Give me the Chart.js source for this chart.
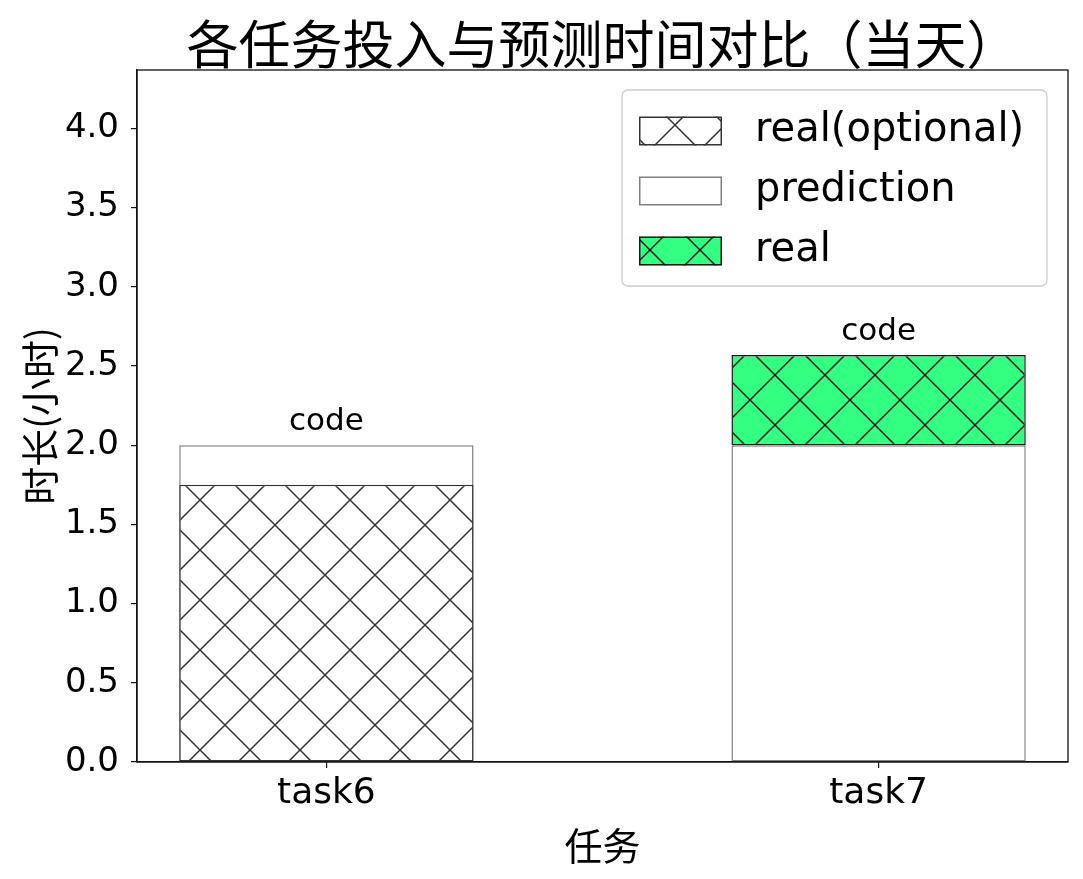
<!DOCTYPE html>
<html>
<head>
<meta charset="utf-8">
<script src="https://cdn.jsdelivr.net/npm/chart.js@4.4.0/dist/chart.umd.min.js"></script>
<style>
html,body{margin:0;padding:0;background:#ffffff;}
#wrap{width:1083px;height:879px;}
</style>
</head>
<body>
<div id="wrap"><canvas id="c" width="1083" height="879"></canvas></div>
<script>
// ---- data ----
const categories = ['task6', 'task7'];
const taskTypes = ['code', 'code'];
const prediction = [2.0, 2.0];
const realOptional = [1.75, null];
const real = [null, 2.57];
const seriesLabels = ['real(optional)', 'prediction', 'real'];
const yTickStep = 0.5;
const yMax = 4.369;
const xMin = -0.343;
const xMax = 1.343;
const chartTitle = '各任务投入与预测时间对比（当天）';
const xTitle = '任务';
const yTitle = '时长(小时)';

// ---- styles ----
const LATIN = '"DejaVu Sans", "Noto Sans", sans-serif';
const CJK = '"Noto Sans CJK SC", "Noto Sans", sans-serif';
const GREEN = '#33ff80';

function makeHatch(bg, line) {
  const s = 50;
  const cv = document.createElement('canvas');
  cv.width = s; cv.height = s;
  const g = cv.getContext('2d');
  g.fillStyle = bg;
  g.fillRect(0, 0, s, s);
  g.strokeStyle = line;
  g.lineWidth = 1.5;
  g.beginPath();
  for (let k = -1; k <= 1; k++) {
    g.moveTo(k * s, 0); g.lineTo(k * s + s, s);
    g.moveTo(k * s, s); g.lineTo(k * s + s, 0);
  }
  g.stroke();
  return g.createPattern(cv, 'repeat');
}

const hatchWhite = makeHatch('#ffffff', '#333333');
const hatchGreen = makeHatch(GREEN, '#1a1a1a');

function pts(arr) {
  const out = [];
  arr.forEach((v, i) => { if (v !== null && v !== undefined) out.push({x: i, y: v}); });
  return out;
}
function floatPts(base, arr) {
  const out = [];
  arr.forEach((v, i) => { if (v !== null && v !== undefined) out.push({x: i, y: [base[i], v]}); });
  return out;
}

const datasets = [
  {
    label: seriesLabels[0],
    data: pts(realOptional),
    backgroundColor: hatchWhite,
    borderColor: '#333333',
    borderWidth: 1.5,
    order: 0
  },
  {
    label: seriesLabels[1],
    data: pts(prediction),
    backgroundColor: '#ffffff',
    borderColor: '#808080',
    borderWidth: 1.5,
    order: 2
  },
  {
    label: seriesLabels[2],
    data: floatPts(prediction, real),
    backgroundColor: hatchGreen,
    borderColor: '#1a1a1a',
    borderWidth: 1.5,
    order: 1
  }
];

const overlayPlugin = {
  id: 'overlay',
  afterDatasetsDraw(chart) {
    const ctx = chart.ctx;
    const a = chart.chartArea;
    const xs = chart.scales.x, ys = chart.scales.y;
    ctx.save();
    // frame (all four spines)
    ctx.strokeStyle = '#111111';
    ctx.lineWidth = 1.3;
    ctx.strokeRect(a.left, a.top, a.right - a.left, a.bottom - a.top);

    // labels above bars
    ctx.fillStyle = '#000000';
    ctx.font = '31px ' + LATIN;
    ctx.textAlign = 'center';
    ctx.textBaseline = 'middle';
    categories.forEach((c, i) => {
      const vals = [prediction[i], realOptional[i], real[i]].filter(v => v !== null && v !== undefined);
      const top = Math.max.apply(null, vals);
      ctx.fillText(taskTypes[i], xs.getPixelForValue(i), ys.getPixelForValue(top) - 23);
    });

    // legend
    const bw = 425, bh = 196;
    const bx = a.right - 21 - bw, by = a.top + 20;
    const r = 6;
    ctx.beginPath();
    ctx.moveTo(bx + r, by);
    ctx.lineTo(bx + bw - r, by);
    ctx.arcTo(bx + bw, by, bx + bw, by + r, r);
    ctx.lineTo(bx + bw, by + bh - r);
    ctx.arcTo(bx + bw, by + bh, bx + bw - r, by + bh, r);
    ctx.lineTo(bx + r, by + bh);
    ctx.arcTo(bx, by + bh, bx, by + bh - r, r);
    ctx.lineTo(bx, by + r);
    ctx.arcTo(bx, by, bx + r, by, r);
    ctx.closePath();
    ctx.fillStyle = 'rgba(255,255,255,0.8)';
    ctx.fill();
    ctx.strokeStyle = '#cccccc';
    ctx.lineWidth = 1.3;
    ctx.stroke();

    chart.data.datasets.forEach((ds, k) => {
      const cy = by + 41 + k * 60;
      const px = bx + 17, pw = 83, ph = 29;
      ctx.fillStyle = ds.backgroundColor;
      ctx.fillRect(px, cy - ph / 2, pw, ph);
      ctx.strokeStyle = ds.borderColor;
      ctx.lineWidth = 1.5;
      ctx.strokeRect(px + 0.75, cy - ph / 2 + 0.75, pw - 1.5, ph - 1.5);
      ctx.fillStyle = '#000000';
      ctx.font = '40px ' + LATIN;
      ctx.textAlign = 'left';
      ctx.textBaseline = 'middle';
      ctx.fillText(ds.label, bx + 133, cy);
    });
    ctx.restore();
  }
};

new Chart(document.getElementById('c'), {
  type: 'bar',
  data: { datasets: datasets },
  plugins: [overlayPlugin],
  options: {
    responsive: false,
    animation: false,
    devicePixelRatio: 1,
    datasets: { bar: { grouped: false, categoryPercentage: 1.0, barPercentage: 0.533, borderSkipped: false } },
    layout: { padding: { left: 0, right: 15, top: 0, bottom: 0 } },
    plugins: {
      legend: { display: false },
      tooltip: { enabled: false },
      title: {
        display: true,
        text: chartTitle,
        fullSize: false,
        color: '#000000',
        font: { family: CJK, size: 52, weight: 'normal', lineHeight: 1.0 },
        padding: { top: 18, bottom: 0 }
      }
    },
    scales: {
      x: {
        type: 'linear',
        offset: false,
        min: xMin,
        max: xMax,
        afterBuildTicks: (s) => { s.ticks = categories.map((c, i) => ({ value: i })); },
        afterFit: (s) => { s.height = 117; },
        ticks: {
          callback: (v) => categories[v],
          color: '#000000',
          font: { family: LATIN, size: 36 },
          padding: 4,
          autoSkip: false,
          maxRotation: 0
        },
        grid: { offset: false, drawOnChartArea: false, drawTicks: true, tickLength: 6, color: '#111111', lineWidth: 1.2 },
        border: { display: true, color: '#111111', width: 1.3 },
        title: {
          display: true,
          text: xTitle,
          color: '#000000',
          font: { family: CJK, size: 38, lineHeight: 1.2 },
          padding: { top: 0, bottom: 11 }
        }
      },
      y: {
        min: 0,
        max: yMax,
        afterFit: (s) => { s.width = 137; },
        ticks: {
          stepSize: yTickStep,
          includeBounds: false,
          callback: (v) => Number(v).toFixed(1),
          color: '#000000',
          font: { family: LATIN, size: 34 },
          padding: 12
        },
        grid: { drawOnChartArea: false, drawTicks: true, tickLength: 6, color: '#111111', lineWidth: 1.2 },
        border: { display: true, color: '#111111', width: 1.3 },
        title: {
          display: true,
          text: yTitle,
          color: '#000000',
          font: { family: CJK, size: 38, lineHeight: 1.2 },
          padding: { top: 17, bottom: 0 }
        }
      }
    }
  }
});
</script>
</body>
</html>
